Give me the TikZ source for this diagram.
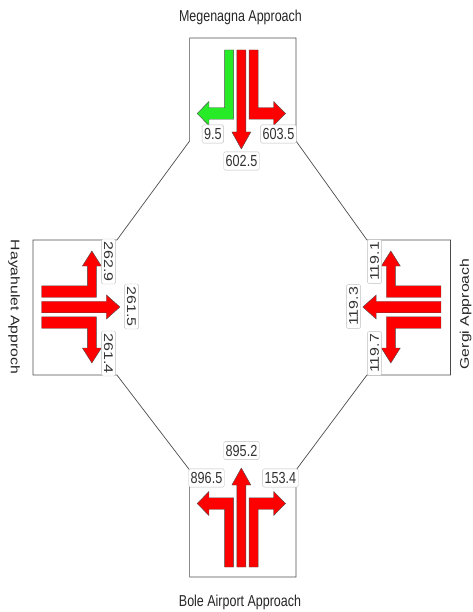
\documentclass[tikz,border=0pt]{standalone}
\usepackage{fontspec}
\setmainfont{Liberation Sans}

\definecolor{turngreen}{RGB}{40,235,40}

\tikzset{
  lane/.style={draw=black!70, line width=0.4pt},
  flow/.style={draw=black!25, fill=white, rounded corners=1.5pt, text=black!80,
    font=\fontsize{16}{16}\selectfont, inner xsep=2.5pt, inner ysep=3.4pt},
  approach/.style={font=\fontsize{15.8}{16}\selectfont, text=black!85, inner sep=0pt},
  % three lanes: straight on, plus one turning off to each side
  pics/lanes/.style={code={
    \filldraw[lane, fill=red] (0,-5.75) -- (82,-5.75) -- (82,-12) -- (99,0) -- (82,12) -- (82,5.75) -- (0,5.75) -- cycle;
    \foreach \s/\col in {1/#1, -1/red}
      \filldraw[lane, fill=\col, yscale=\s] (0,9.75) -- (69.25,9.75) -- (69.25,41) -- (75.5,41) -- (63.5,56)
        -- (51.5,41) -- (57.75,41) -- (57.75,21.25) -- (0,21.25) -- cycle;
  }}
}

\begin{document}
\begin{tikzpicture}[x=1pt, y=-1pt, xscale=0.79, every node/.append style={transform shape}]
  \useasboundingbox (0,0) rectangle (597.5,612);

  % junction outline
  \draw[black!70, line width=0.7pt] (41.8,240) -- (148,240) -- (240,141) -- (240,38) -- (374.7,38) -- (374.7,141)
    -- (464.5,240) -- (570.2,240) -- (570.2,375) -- (464.5,375) -- (374.7,470) -- (374.7,577)
    -- (240,577) -- (240,470) -- (148,375) -- (41.8,375) -- cycle;

  % lane arrows
  \pic[rotate=-90] at (305.5,50) {lanes=turngreen};
  \pic[rotate=90] at (305.5,567) {lanes=red};
  \pic at (52.8,307) {lanes=red};
  \pic[rotate=180] at (558.2,307) {lanes=red};

  % approach names
  \node[approach, anchor=base] (megenagna) at (304.4,22) {Megenagna Approach};
  \node[approach, anchor=base] (bole) at (303.8,606.5) {Bole Airport Approach};
  \node[approach, anchor=north, rotate=-90] (hayahulet) at (25.3,307) {Hayahulet Approch};
  \node[approach, anchor=north, rotate=90] (gergi) at (582,314) {Gergi Approach};

  % volumes
  \node[flow] (meg-left) at (269.5,134) {9.5};
  \node[flow] (meg-thru) at (305.7,161) {602.5};
  \node[flow] (meg-right) at (352.5,134) {603.5};

  \node[flow] (bole-left) at (261.4,478) {896.5};
  \node[flow] (bole-thru) at (305.7,450.5) {895.2};
  \node[flow] (bole-right) at (355,478) {153.4};

  \node[flow, rotate=-90] (hay-left) at (137.3,261.5) {262.9};
  \node[flow, rotate=-90] (hay-thru) at (166.5,306.5) {261.5};
  \node[flow, rotate=-90] (hay-right) at (137.3,353.5) {261.4};

  \node[flow, rotate=90] (ger-right) at (474,261.5) {119.1};
  \node[flow, rotate=90] (ger-thru) at (447.5,306.5) {119.3};
  \node[flow, rotate=90] (ger-left) at (474,353.5) {119.7};
\end{tikzpicture}
\end{document}
